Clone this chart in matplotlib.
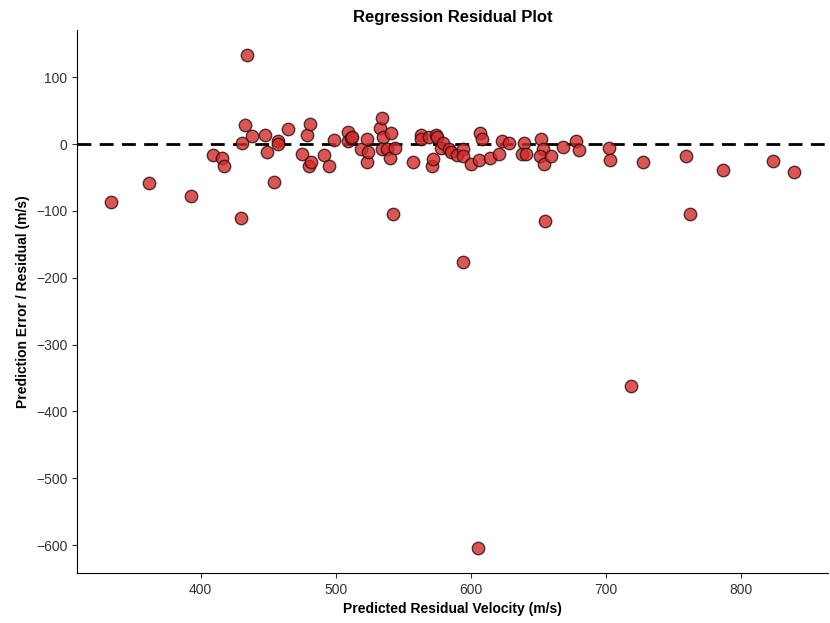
import matplotlib.pyplot as plt
import numpy as np

plt.rcParams['font.family'] = ['Liberation Sans', 'DejaVu Sans']

# predicted velocity (m/s) and residual (m/s)
predicted = [
    334, 362, 393, 409, 416, 417, 430, 431, 433, 434, 438, 448, 449, 454, 457, 457,
    465, 475, 479, 480, 481, 482, 491, 495, 499, 509, 509, 511, 512, 519, 523, 523,
    524, 533, 534, 535, 534, 538, 540, 541, 542, 544, 557, 563, 563, 569, 574, 575,
    571, 572, 578, 579, 584, 585, 590, 594, 594, 594, 600, 605, 606, 607, 608, 614,
    621, 623, 628, 639, 638, 641, 652, 653, 651, 654, 655, 659, 668, 678, 680, 702,
    703, 718, 727, 759, 762, 786, 823, 839,
]
residual = [
    -86, -58, -78, -16, -21, -33, -110, 1, 28, 134, 12, 14, -11, -56, 5, 0,
    23, -15, 13, -32, 30, -27, -16, -32, 6, 18, 4, 9, 10, -7, 8, -27,
    -11, 24, 39, 11, -7, -7, -21, 17, -105, -6, -27, 14, 7, 11, 14, 11,
    -33, -22, -6, 2, -7, -12, -16, -8, -17, -177, -30, -605, -24, 17, 7, -21,
    -14, 4, 1, 1, -14, -14, 8, -7, -17, -29, -115, -17, -4, 4, -9, -6,
    -23, -362, -27, -17, -105, -38, -25, -41,
]

fig, ax = plt.subplots(figsize=(8.3, 6.23), dpi=100)
fig.subplots_adjust(left=0.093, right=0.998, top=0.952, bottom=0.08)

ax.scatter(predicted, residual, s=80, facecolor='#d42a2a', edgecolor='#2a1010',
           linewidth=1.0, alpha=0.8, zorder=3)
ax.axhline(0, color='black', linestyle='--', linewidth=2, dashes=(5, 3), zorder=2)

ax.spines['top'].set_visible(False)
ax.spines['right'].set_visible(False)
ax.tick_params(labelsize=10, colors='#333333')
ax.set_xticks([400, 500, 600, 700, 800])
ax.set_yticks([100, 0, -100, -200, -300, -400, -500, -600])
ax.set_yticklabels(['100', '0', '\u2212100', '\u2212200', '\u2212300', '\u2212400', '\u2212500', '\u2212600'])

ax.set_xlabel('Predicted Residual Velocity (m/s)', fontsize=10, fontweight='bold')
ax.set_ylabel('Prediction Error / Residual (m/s)', fontsize=10, fontweight='bold')
ax.set_title('Regression Residual Plot', fontsize=12, fontweight='bold')

fig.savefig('out.png', dpi=100)
